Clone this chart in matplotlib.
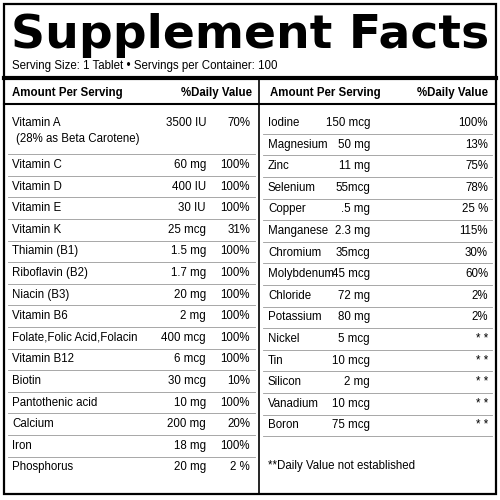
import matplotlib
matplotlib.use("Agg")
import matplotlib.pyplot as plt

left_names = ["Vitamin A", "Vitamin C", "Vitamin D", "Vitamin E", "Vitamin K", "Thiamin (B1)",
              "Riboflavin (B2)", "Niacin (B3)", "Vitamin B6", "Folate,Folic Acid,Folacin",
              "Vitamin B12", "Biotin", "Pantothenic acid", "Calcium", "Iron", "Phosphorus"]
left_amounts = ["3500 IU", "60 mg", "400 IU", "30 IU", "25 mcg", "1.5 mg", "1.7 mg", "20 mg",
                "2 mg", "400 mcg", "6 mcg", "30 mcg", "10 mg", "200 mg", "18 mg", "20 mg"]
left_dv = ["70%", "100%", "100%", "100%", "31%", "100%", "100%", "100%", "100%", "100%",
           "100%", "10%", "100%", "20%", "100%", "2 %"]
right_names = ["Iodine", "Magnesium", "Zinc", "Selenium", "Copper", "Manganese", "Chromium",
               "Molybdenum", "Chloride", "Potassium", "Nickel", "Tin", "Silicon", "Vanadium", "Boron"]
right_amounts = ["150 mcg", "50 mg", "11 mg", "55mcg", ".5 mg", "2.3 mg", "35mcg", "45 mcg",
                 "72 mg", "80 mg", "5 mcg", "10 mcg", "2 mg", "10 mcg", "75 mcg"]
right_dv = ["100%", "13%", "75%", "78%", "25 %", "115%", "30%", "60%", "2%", "2%",
            "* *", "* *", "* *", "* *", "* *"]

FONT = "Liberation Sans"
fig = plt.figure(figsize=(5, 5), dpi=100)
ax = fig.add_axes([0, 0, 1, 1])
ax.set_xlim(0, 500); ax.set_ylim(500, 0); ax.axis("off")
fs = 8.3
ax.add_patch(plt.Rectangle((4, 4), 492, 490, fill=False, lw=1.6, ec="black"))
ax.text(250, 35, "Supplement Facts", ha="center", va="center", fontsize=34,
        fontweight="heavy", family="DejaVu Sans")
ax.text(12, 66, "Serving Size: 1 Tablet \u2022 Servings per Container: 100", va="center",
        fontsize=fs, family=FONT)
ax.plot([4, 496], [78, 78], color="black", lw=3)
ax.text(12, 93, "Amount Per Serving", va="center", fontsize=fs, fontweight="bold", family=FONT)
ax.text(252, 93, "%Daily Value", ha="right", va="center", fontsize=fs, fontweight="bold", family=FONT)
ax.text(270, 93, "Amount Per Serving", va="center", fontsize=fs, fontweight="bold", family=FONT)
ax.text(488, 93, "%Daily Value", ha="right", va="center", fontsize=fs, fontweight="bold", family=FONT)
ax.plot([4, 496], [104, 104], color="black", lw=1.5)
ax.plot([259, 259], [78, 494], color="black", lw=1.2)

ly = [123] + [165 + 21.6 * i for i in range(15)]
for i, (n, a, d) in enumerate(zip(left_names, left_amounts, left_dv)):
    y = ly[i]
    ax.text(12, y, n, va="center", fontsize=fs, family=FONT)
    ax.text(206, y, a, ha="right", va="center", fontsize=fs, family=FONT)
    ax.text(250, y, d, ha="right", va="center", fontsize=fs, family=FONT)
    if i < len(left_names) - 1:
        sep = y + 10.8 if i > 0 else 154
        ax.plot([8, 255], [sep, sep], color="#999999", lw=0.6)
ax.text(16, 139, "(28% as Beta Carotene)", va="center", fontsize=fs, family=FONT)

ry = [123 + 21.6 * i for i in range(15)]
for i, (n, a, d) in enumerate(zip(right_names, right_amounts, right_dv)):
    y = ry[i]
    ax.text(268, y, n, va="center", fontsize=fs, family=FONT)
    ax.text(370, y, a, ha="right", va="center", fontsize=fs, family=FONT)
    ax.text(488, y, d, ha="right", va="center", fontsize=fs, family=FONT)
    ax.plot([263, 492], [y + 10.8, y + 10.8], color="#999999", lw=0.6)
ax.text(268, 466, "**Daily Value not established", va="center", fontsize=fs, family=FONT)
fig.savefig("out.png", dpi=100)
